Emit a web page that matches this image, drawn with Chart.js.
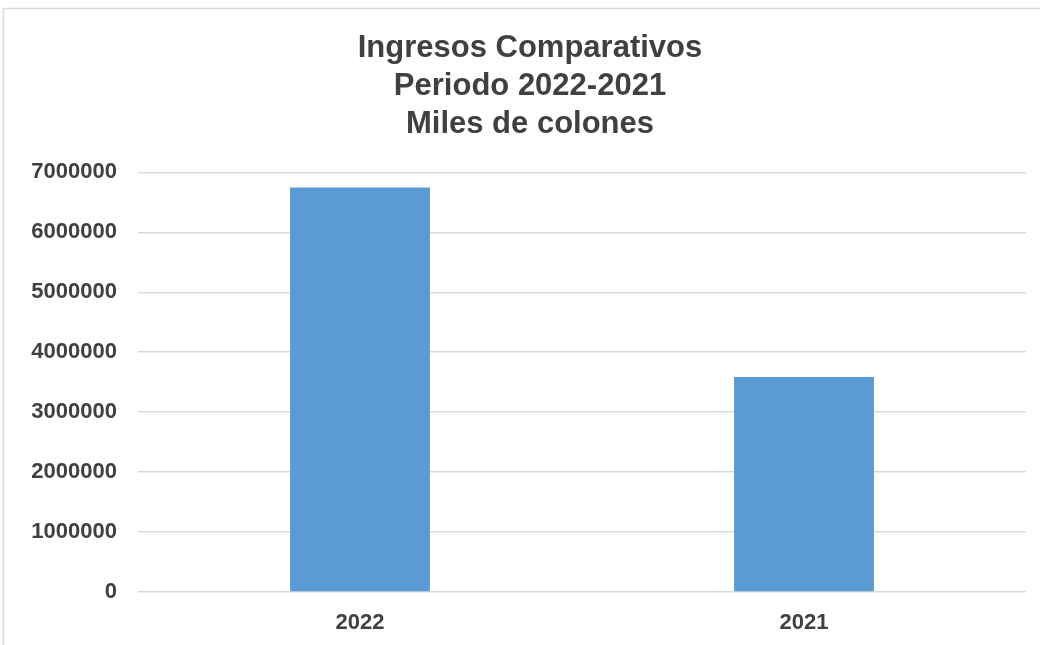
<!DOCTYPE html>
<html>
<head>
<meta charset="utf-8">
<script src="https://cdn.jsdelivr.net/npm/chart.js@4"></script>
<style>
  html, body { margin: 0; padding: 0; background: #fff; }
  #wrap { width: 1040px; height: 645px; position: relative; }
</style>
</head>
<body>
<div id="wrap"><canvas id="chart" width="1040" height="645"></canvas></div>
<script>
'use strict';

/* ── Data ── */
const categories  = ['2022', '2021'];
const ingresos    = [6750000, 3585000];
const titleLines  = ['Ingresos Comparativos', 'Periodo 2022-2021', 'Miles de colones'];

const TEXT_COLOR = '#404040';
const GRID_COLOR = '#d9d9d9';
const BAR_COLOR  = '#5b9bd5';

/* marco exterior del gráfico */
const framePlugin = {
  id: 'frame',
  beforeDraw(chart) {
    const ctx = chart.ctx;
    ctx.save();
    ctx.fillStyle = '#fff';
    ctx.fillRect(0, 0, chart.width, chart.height);
    ctx.strokeStyle = GRID_COLOR;
    ctx.lineWidth = 1.5;
    ctx.strokeRect(3.5, 8.5, chart.width + 10, chart.height + 10);
    ctx.restore();
  }
};

Chart.defaults.font.family = "'Liberation Sans', Arial, sans-serif";
Chart.defaults.color = TEXT_COLOR;

new Chart(document.getElementById('chart'), {
  type: 'bar',
  data: {
    labels: categories,
    datasets: [{
      data: ingresos,
      backgroundColor: BAR_COLOR,
      borderWidth: 0,
      categoryPercentage: 0.315,
      barPercentage: 1
    }]
  },
  options: {
    responsive: false,
    animation: false,
    layout: { padding: { left: 20, right: 0, top: 0, bottom: 0 } },
    plugins: {
      legend: { display: false },
      tooltip: { enabled: false },
      title: {
        display: true,
        text: titleLines,
        color: TEXT_COLOR,
        font: { size: 31, weight: 'bold', lineHeight: 1.23 },
        padding: { top: 29, bottom: 29 }
      }
    },
    scales: {
      x: {
        grid: { display: false, drawTicks: false },
        border: { display: false },
        ticks: { padding: 18, font: { size: 22, weight: 'bold' }, color: TEXT_COLOR },
        afterFit(scale) { scale.height = 53; }
      },
      y: {
        min: 0,
        max: 7000000,
        grid: { color: GRID_COLOR, lineWidth: 1.5, drawTicks: false },
        border: { display: false },
        ticks: {
          stepSize: 1000000,
          padding: 21,
          font: { size: 22, weight: 'bold' },
          color: TEXT_COLOR,
          callback: v => String(v)
        },
        afterFit(scale) { scale.width = 118; }
      },
      yRight: {
        position: 'right',
        display: true,
        grid: { display: false, drawTicks: false },
        border: { display: false },
        ticks: { display: false },
        afterFit(scale) { scale.width = 14; }
      }
    }
  },
  plugins: [framePlugin]
});
</script>
</body>
</html>
